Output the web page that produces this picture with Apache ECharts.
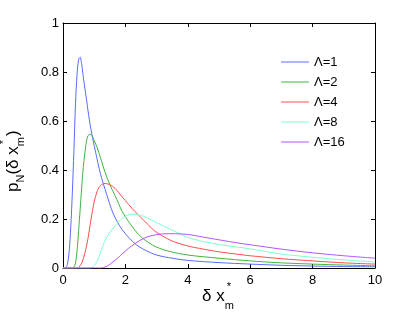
<!DOCTYPE html>
<html>
<head>
<meta charset="utf-8">
<script src="https://cdn.jsdelivr.net/npm/echarts@6/dist/echarts.min.js"></script>
<style>html,body{margin:0;padding:0;background:#fff}#c{width:415px;height:313px}</style>
</head>
<body>
<div id="c"></div>
<script>
const seriesNames = ['Λ=1', 'Λ=2', 'Λ=4', 'Λ=8', 'Λ=16'];
const xTicks = [0, 2, 4, 6, 8, 10];
const yTicks = [0, 0.2, 0.4, 0.6, 0.8, 1];

const lambda1X = [0, 0.1, 0.15, 0.2, 0.25, 0.3, 0.35, 0.4, 0.45, 0.5, 0.55, 0.6, 0.66, 0.75, 0.85, 0.95, 1.05, 1.2, 1.4, 1.6, 1.8, 2.0, 2.3, 2.6, 3, 3.5, 4, 5, 6, 7, 8, 9, 10];
const lambda1Y = [0, 0.003, 0.02, 0.07, 0.17, 0.31, 0.48, 0.67, 0.79, 0.85, 0.86, 0.83, 0.77, 0.69, 0.60, 0.53, 0.47, 0.385, 0.30, 0.225, 0.175, 0.14, 0.10, 0.075, 0.053, 0.04, 0.031, 0.022, 0.016, 0.011, 0.008, 0.006, 0.005];

const lambda2X = [0, 0.3, 0.35, 0.4, 0.45, 0.5, 0.55, 0.6, 0.65, 0.7, 0.75, 0.8, 0.87, 0.95, 1.0, 1.1, 1.2, 1.35, 1.5, 1.67, 1.9, 2.1, 2.3, 2.52, 2.75, 3.0, 3.4, 4.0, 5, 6, 7, 8, 9, 10];
const lambda2Y = [0, 0, 0.003, 0.02, 0.07, 0.15, 0.24, 0.33, 0.41, 0.47, 0.515, 0.54, 0.546, 0.535, 0.52, 0.49, 0.45, 0.39, 0.34, 0.295, 0.23, 0.19, 0.155, 0.125, 0.103, 0.085, 0.068, 0.053, 0.04, 0.029, 0.021, 0.016, 0.012, 0.009];

const lambda4X = [0, 0.45, 0.5, 0.6, 0.7, 0.8, 0.9, 1.0, 1.1, 1.2, 1.35, 1.5, 1.67, 1.9, 2.1, 2.31, 2.47, 2.7, 2.95, 3.2, 3.5, 4, 4.5, 5, 5.67, 6, 7, 8, 9, 10];
const lambda4Y = [0, 0, 0.002, 0.02, 0.06, 0.12, 0.2, 0.27, 0.315, 0.337, 0.345, 0.34, 0.325, 0.29, 0.26, 0.23, 0.21, 0.18, 0.15, 0.13, 0.11, 0.09, 0.077, 0.066, 0.055, 0.05, 0.038, 0.029, 0.021, 0.016];

const lambda8X = [0, 0.85, 0.95, 1.05, 1.15, 1.25, 1.35, 1.5, 1.67, 1.92, 2.2, 2.47, 2.7, 3.0, 3.5, 4, 4.5, 5, 5.67, 6, 7, 8, 9, 10];
const lambda8Y = [0, 0, 0.004, 0.018, 0.045, 0.08, 0.113, 0.145, 0.172, 0.205, 0.22, 0.215, 0.205, 0.185, 0.155, 0.125, 0.108, 0.096, 0.084, 0.078, 0.057, 0.044, 0.033, 0.025];

const lambda16X = [0, 1.2, 1.3, 1.45, 1.6, 1.75, 1.92, 2.1, 2.31, 2.5, 2.72, 3.0, 3.3, 3.6, 4, 4.5, 5, 5.67, 6, 7, 8, 9, 10];
const lambda16Y = [0, 0, 0.002, 0.01, 0.025, 0.04, 0.06, 0.08, 0.10, 0.115, 0.128, 0.136, 0.14, 0.14, 0.137, 0.126, 0.115, 0.101, 0.095, 0.077, 0.062, 0.05, 0.04];

const colors = ['#5a6cff', '#3fb43f', '#ff4d4d', '#7dffc8', '#b455ff'];
const xs = [lambda1X, lambda2X, lambda4X, lambda8X, lambda16X];
const ys = [lambda1Y, lambda2Y, lambda4Y, lambda8Y, lambda16Y];

const FONT = 'Liberation Sans, Arial, Helvetica, sans-serif';
const chart = echarts.init(document.getElementById('c'), null, {renderer: 'canvas'});

const series = seriesNames.map((n, i) => ({
  name: n, type: 'line', symbol: 'none', smooth: 0.3,
  data: xs[i].map((x, k) => [x, ys[i][k]]),
  lineStyle: {color: colors[i], width: 1},
  itemStyle: {color: colors[i]},
  xAxisIndex: 0, yAxisIndex: 0
}));

// measure helper for axis titles with sub/superscripts
const mctx = document.createElement('canvas').getContext('2d');
function buildTokens(tokens) {
  let x = 0; const out = [];
  tokens.forEach(t => {
    const font = t.size + 'px ' + FONT;
    mctx.font = font;
    const w = mctx.measureText(t.text).width;
    out.push({type: 'text', x: x + (t.dx || 0), y: t.dy || 0,
      style: {text: t.text, font: font, fill: '#000', verticalAlign: 'middle', align: 'left'}});
    if (!t.stay) x += w + (t.gap || 0);
  });
  return out;
}
const MAIN = 17, SUB = 11;
const xTitle = buildTokens([
  {text: 'δ x', size: MAIN},
  {text: '*', size: SUB, dy: -9, dx: 2, stay: true},
  {text: 'm', size: SUB, dy: 10, dx: 0}
]);
const yTitle = buildTokens([
  {text: 'p', size: MAIN},
  {text: 'N', size: SUB, dy: 8},
  {text: '(δ x', size: MAIN},
  {text: '*', size: SUB, dy: -9, dx: 2, stay: true},
  {text: 'm', size: SUB, dy: 8, gap: 1},
  {text: ')', size: MAIN, dy: 0}
]);

const axisCommon = {
  type: 'value', splitLine: {show: false},
  axisLine: {show: true, onZero: false, lineStyle: {color: '#000', width: 1}},
  axisTick: {show: true, inside: true, length: 4, lineStyle: {color: '#000'}},
};

chart.setOption({
  animation: false,
  backgroundColor: '#fff',
  grid: {left: 63, right: 40, top: 23, bottom: 45, containLabel: false},
  xAxis: [
    Object.assign({}, axisCommon, {min: 0, max: 10, interval: 2, position: 'bottom',
      axisLabel: {show: true, margin: 6, fontSize: 13, color: '#000', fontFamily: FONT,
        formatter: v => xTicks.indexOf(v) >= 0 ? String(v) : ''}}),
    Object.assign({}, axisCommon, {min: 0, max: 10, interval: 2, position: 'top', axisLabel: {show: false}})
  ],
  yAxis: [
    Object.assign({}, axisCommon, {min: 0, max: 1, interval: 0.2, position: 'left',
      axisLabel: {show: true, margin: 4, fontSize: 13, color: '#000', fontFamily: FONT,
        formatter: v => { const t = yTicks.find(q => Math.abs(q - v) < 1e-9); return t === undefined ? '' : String(t); }}}),
    Object.assign({}, axisCommon, {min: 0, max: 1, interval: 0.2, position: 'right', axisLabel: {show: false}})
  ],
  legend: {
    orient: 'vertical', left: 276, top: 47, itemWidth: 28, itemHeight: 1, itemGap: 0,
    icon: 'rect',
    data: seriesNames,
    textStyle: {fontSize: 13, color: '#000', fontFamily: FONT, lineHeight: 20, height: 20},
    selectedMode: false
  },
  series: series,
  graphic: [
    {type: 'group', x: 202, y: 296, children: xTitle, silent: true},
    {type: 'group', x: 13, y: 192, rotation: Math.PI / 2, children: yTitle, silent: true}
  ]
});
</script>
</body>
</html>
